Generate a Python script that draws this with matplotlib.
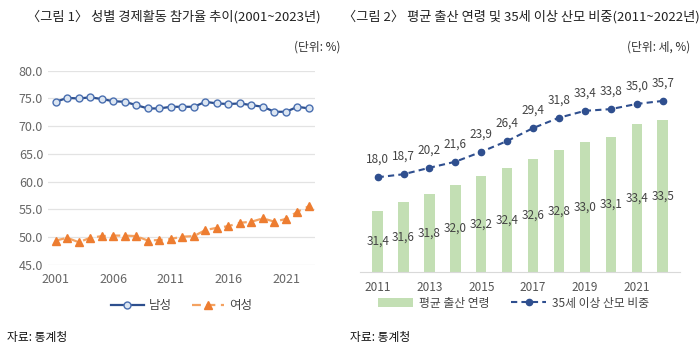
import numpy as np
import matplotlib
matplotlib.use('Agg')
import matplotlib.pyplot as plt

plt.rcParams['font.family'] = ['Noto Sans CJK KR', 'DejaVu Sans']

# Figure 1 data: economic participation rate by sex
years1 = list(range(2001, 2024))
male = [74.4, 75.1, 75.0, 75.2, 74.9, 74.5, 74.4, 73.8, 73.2, 73.2, 73.5, 73.5,
        73.5, 74.4, 74.1, 74.0, 74.1, 73.8, 73.5, 72.6, 72.6, 73.5, 73.2]
female = [49.4, 49.9, 49.1, 49.9, 50.2, 50.3, 50.3, 50.2, 49.4, 49.5, 49.7, 50.1,
          50.2, 51.3, 51.7, 52.0, 52.6, 52.8, 53.4, 52.8, 53.3, 54.6, 55.6]
ticks1 = [2001, 2006, 2011, 2016, 2021]

# Figure 2 data: average maternal age and share of mothers aged 35+
years2 = list(range(2011, 2023))
avg_age = [31.4, 31.6, 31.8, 32.0, 32.2, 32.4, 32.6, 32.8, 33.0, 33.1, 33.4, 33.5]
share35 = [18.0, 18.7, 20.2, 21.6, 23.9, 26.4, 29.4, 31.8, 33.4, 33.8, 35.0, 35.7]
ticks2 = [2011, 2013, 2015, 2017, 2019, 2021]

W, H = 700, 361
fig = plt.figure(figsize=(W / 100, H / 100), dpi=100)


def px(x, y):
    return x / W, 1 - y / H


# titles / units / sources
fig.text(*px(27, 17), '〈그림 1〉 성별 경제활동 참가율 추이(2001~2023년)', fontsize=9.5,
         va='center', ha='left', color='#222222')
fig.text(*px(343, 17), '〈그림 2〉 평균 출산 연령 및 35세 이상 산모 비중(2011~2022년)', fontsize=9.5,
         va='center', ha='left', color='#222222')
fig.text(*px(340, 47), '(단위: %)', fontsize=8.5, va='center', ha='right', color='#333333')
fig.text(*px(690, 47), '(단위: 세, %)', fontsize=8.5, va='center', ha='right', color='#333333')
fig.text(*px(7, 338), '자료: 통계청', fontsize=8.5, va='center', ha='left', color='#111111')
fig.text(*px(350, 338), '자료: 통계청', fontsize=8.5, va='center', ha='left', color='#111111')

# ---- left chart
l, b = px(48, 265)
r, t = px(315, 70.7)
ax1 = fig.add_axes([l, b, r - l, t - b])
ax1.plot(years1, male, color='#2d4f8e', lw=1.6, marker='o', ms=5,
         mfc='#dce6f2', mec='#4a6fb0', mew=1.0, label='남성', zorder=3)
ax1.plot(years1, female, color='#f4a261', lw=1.6, ls=(0, (4, 2.5)), marker='^', ms=5.5,
         mfc='#ed7d31', mec='#ed7d31', label='여성', zorder=3)
ax1.set_xlim(2000.33, 2023.52)
ax1.set_ylim(45, 80)
ax1.set_yticks(np.arange(45, 81, 5))
ax1.set_yticklabels([f'{v:.1f}' for v in np.arange(45, 81, 5)])
ax1.set_xticks(ticks1)
ax1.grid(axis='y', color='#e3e3e3', lw=0.9)
ax1.set_axisbelow(True)
for s in ax1.spines.values():
    s.set_visible(False)
ax1.tick_params(length=0, labelsize=9, colors='#666666')
ax1.tick_params(axis='x', pad=6)
ax1.legend(loc='center', bbox_to_anchor=(0.5, -0.21), ncol=2, frameon=False,
           fontsize=9, handlelength=2.6, handletextpad=0.4, columnspacing=1.6,
           labelcolor='#444444')

# ---- right chart
l2, b2 = px(360, 271.7)
r2, t2 = px(680, 55.2)
ax2 = fig.add_axes([l2, b2, r2 - l2, t2 - b2])
ax2.bar(years2, avg_age, width=0.4, bottom=0, color='#c3dfb4', label='평균 출산 연령', zorder=1)
ax2.set_ylim(30, 35)
ax2.set_xlim(2010.32, 2022.67)
for x, v in zip(years2, avg_age):
    ax2.text(x, (30 + v) / 2, f'{v:.1f}'.replace('.', ','), ha='center', va='center',
             fontsize=8.5, color='#444444', zorder=4)
ax2.set_xticks(ticks2)
ax2.set_yticks([])
for k, s in ax2.spines.items():
    s.set_visible(k == 'bottom')
ax2.spines['bottom'].set_color('#d9d9d9')
ax2.tick_params(length=0, labelsize=8.5, colors='#555555', pad=7)

ax3 = ax2.twinx()
ax3.plot(years2, share35, color='#2f4f8f', lw=1.5, ls=(0, (3, 2)), marker='o', ms=4.5,
         mfc='#2f4f8f', mec='#2f4f8f', label='35세 이상 산모 비중', zorder=3)
ax3.set_ylim(-3.9, 46.3)
ax3.set_yticks([])
for s in ax3.spines.values():
    s.set_visible(False)
for x, v in zip(years2, share35):
    ax3.annotate(f'{v:.1f}'.replace('.', ','), (x, v), xytext=(0, 8), textcoords='offset points',
                 ha='center', va='bottom', fontsize=8.5, color='#444444')

h1, lb1 = ax2.get_legend_handles_labels()
h2, lb2 = ax3.get_legend_handles_labels()
ax2.legend(h1 + h2, lb1 + lb2, loc='center', bbox_to_anchor=(0.48, -0.145), ncol=2,
           frameon=False, fontsize=8.5, handlelength=3.0, handletextpad=0.5,
           columnspacing=1.8, labelcolor='#444444')

fig.savefig('out.png', dpi=100)
